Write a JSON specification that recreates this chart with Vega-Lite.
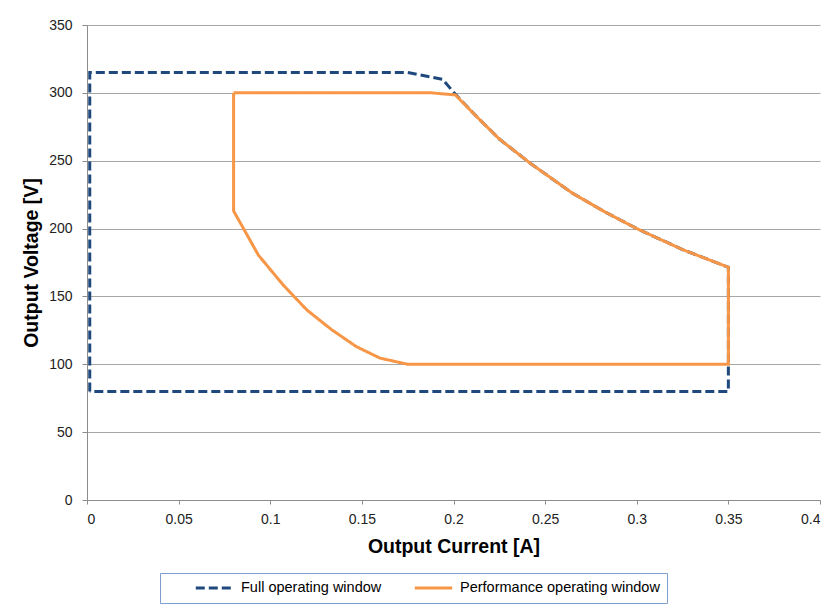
{
  "$schema": "https://vega.github.io/schema/vega-lite/v6.json",
  "autosize": "none",
  "width": 733,
  "height": 475,
  "padding": {"left": 87, "top": 25, "right": 17, "bottom": 113},
  "background": "white",
  "data": {
    "values": [
      {"series": "Full operating window", "order": 1, "current": 0.0015, "voltage": 80},
      {"series": "Full operating window", "order": 2, "current": 0.0015, "voltage": 315},
      {"series": "Full operating window", "order": 3, "current": 0.175, "voltage": 315},
      {"series": "Full operating window", "order": 4, "current": 0.194, "voltage": 310},
      {"series": "Full operating window", "order": 5, "current": 0.201, "voltage": 299},
      {"series": "Full operating window", "order": 6, "current": 0.213, "voltage": 282},
      {"series": "Full operating window", "order": 7, "current": 0.225, "voltage": 266},
      {"series": "Full operating window", "order": 8, "current": 0.242, "voltage": 248},
      {"series": "Full operating window", "order": 9, "current": 0.265, "voltage": 226},
      {"series": "Full operating window", "order": 10, "current": 0.283, "voltage": 212},
      {"series": "Full operating window", "order": 11, "current": 0.3, "voltage": 200},
      {"series": "Full operating window", "order": 12, "current": 0.325, "voltage": 184.5},
      {"series": "Full operating window", "order": 13, "current": 0.35, "voltage": 171.5},
      {"series": "Full operating window", "order": 14, "current": 0.35, "voltage": 80},
      {"series": "Full operating window", "order": 15, "current": 0.0015, "voltage": 80},
      {"series": "Performance operating window", "order": 1, "current": 0.08, "voltage": 300},
      {"series": "Performance operating window", "order": 2, "current": 0.188, "voltage": 300},
      {"series": "Performance operating window", "order": 3, "current": 0.201, "voltage": 298.5},
      {"series": "Performance operating window", "order": 4, "current": 0.213, "voltage": 282},
      {"series": "Performance operating window", "order": 5, "current": 0.225, "voltage": 266},
      {"series": "Performance operating window", "order": 6, "current": 0.242, "voltage": 248},
      {"series": "Performance operating window", "order": 7, "current": 0.265, "voltage": 226},
      {"series": "Performance operating window", "order": 8, "current": 0.283, "voltage": 212},
      {"series": "Performance operating window", "order": 9, "current": 0.3, "voltage": 200},
      {"series": "Performance operating window", "order": 10, "current": 0.325, "voltage": 184.5},
      {"series": "Performance operating window", "order": 11, "current": 0.35, "voltage": 171.5},
      {"series": "Performance operating window", "order": 12, "current": 0.35, "voltage": 100},
      {"series": "Performance operating window", "order": 13, "current": 0.175, "voltage": 100},
      {"series": "Performance operating window", "order": 14, "current": 0.16, "voltage": 104.5},
      {"series": "Performance operating window", "order": 15, "current": 0.147, "voltage": 113},
      {"series": "Performance operating window", "order": 16, "current": 0.1335, "voltage": 125.5},
      {"series": "Performance operating window", "order": 17, "current": 0.12, "voltage": 140},
      {"series": "Performance operating window", "order": 18, "current": 0.107, "voltage": 158.5},
      {"series": "Performance operating window", "order": 19, "current": 0.0935, "voltage": 180.5},
      {"series": "Performance operating window", "order": 20, "current": 0.08, "voltage": 213},
      {"series": "Performance operating window", "order": 21, "current": 0.08, "voltage": 300}
    ]
  },
  "mark": {"type": "line", "strokeWidth": 3, "strokeCap": "butt", "strokeJoin": "miter"},
  "encoding": {
    "x": {
      "field": "current",
      "type": "quantitative",
      "scale": {"domain": [0, 0.4], "nice": false},
      "axis": {
        "title": "Output Current [A]",
        "values": [0, 0.05, 0.1, 0.15, 0.2, 0.25, 0.3, 0.35, 0.4],
        "format": "~g",
        "grid": false,
        "tickSize": 4,
        "labelPadding": 8,
        "titlePadding": 11
      }
    },
    "y": {
      "field": "voltage",
      "type": "quantitative",
      "scale": {"domain": [0, 350], "nice": false},
      "axis": {
        "title": "Output Voltage [V]",
        "values": [0, 50, 100, 150, 200, 250, 300, 350],
        "grid": true,
        "tickSize": 5,
        "labelPadding": 10,
        "titlePadding": 7
      }
    },
    "order": {"field": "order", "type": "quantitative"},
    "color": {
      "field": "series",
      "type": "nominal",
      "scale": {
        "domain": ["Full operating window", "Performance operating window"],
        "range": ["#1f497d", "#f79646"]
      },
      "legend": {"title": null}
    },
    "strokeDash": {
      "field": "series",
      "type": "nominal",
      "scale": {
        "domain": ["Full operating window", "Performance operating window"],
        "range": [[9, 4], [1, 0]]
      },
      "legend": {"title": null}
    }
  },
  "config": {
    "view": {"stroke": null},
    "font": "Liberation Sans",
    "axis": {
      "domainColor": "#8c8c8c",
      "tickColor": "#8c8c8c",
      "gridColor": "#a6a6a6",
      "labelFont": "Liberation Sans",
      "labelFontSize": 14,
      "labelColor": "#222222",
      "titleFont": "Liberation Sans",
      "titleFontSize": 19.5,
      "titleFontWeight": "bold",
      "titleColor": "#000000"
    },
    "legend": {
      "orient": "none",
      "legendX": 73,
      "legendY": 548,
      "direction": "horizontal",
      "strokeColor": "#7f9fd0",
      "padding": 7,
      "clipHeight": 16,
      "symbolType": "stroke",
      "symbolSize": 1400,
      "symbolStrokeWidth": 3,
      "symbolOffset": 27,
      "labelFont": "Liberation Sans",
      "labelFontSize": 14.5,
      "labelColor": "#000000",
      "labelOffset": 6,
      "columnPadding": 4,
      "labelLimit": 300
    }
  }
}
